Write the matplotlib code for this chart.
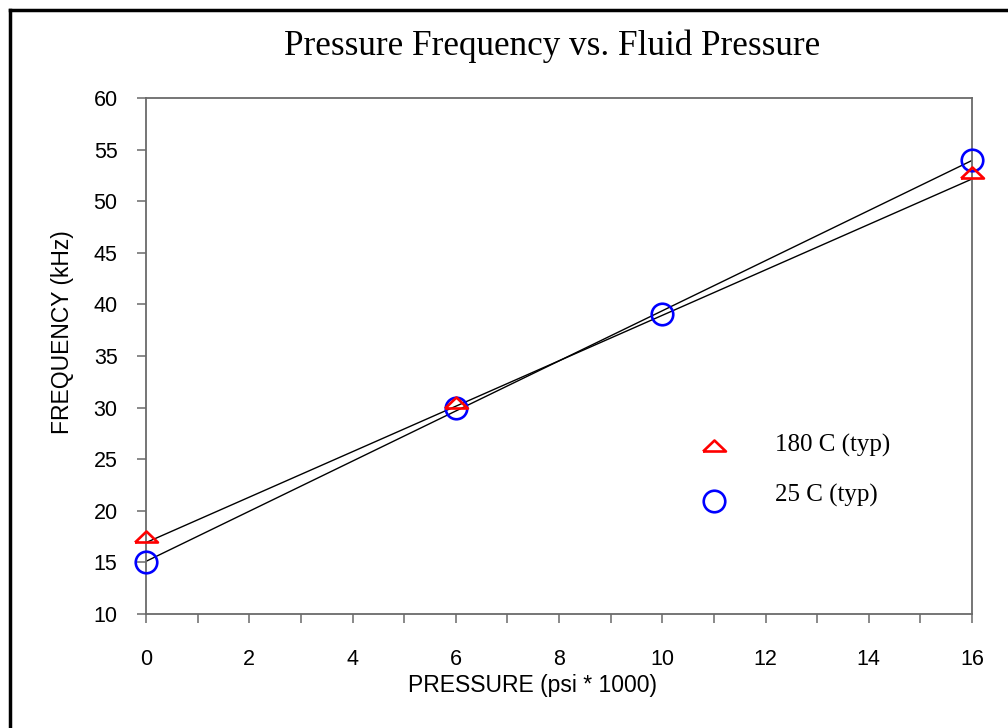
import numpy as np
import matplotlib
matplotlib.use('Agg')
import matplotlib.pyplot as plt
from matplotlib.lines import Line2D

# data
pressure_25c = [0, 6, 10, 16]
freq_25c = [15.0, 30.0, 39.1, 54.0]
pressure_180c = [0, 6, 16]
freq_180c = [17.0, 30.0, 52.2]

x_ticks = [0, 2, 4, 6, 8, 10, 12, 14, 16]
y_ticks = [10, 15, 20, 25, 30, 35, 40, 45, 50, 55, 60]

sans = 'Liberation Sans'
serif = 'Liberation Serif'
spine_col = '#6a6a6a'

fig = plt.figure(figsize=(10.08, 7.28), dpi=100)
ax = fig.add_axes([146 / 1008, 1 - 614 / 728, 826 / 1008, 516 / 728])

# flat triangle sitting on its data point
tri = [(-1, 0), (1, 0), (0, 0.96), (-1, 0)]

# linear fits, drawn across the data range
for xs, ys in [(pressure_180c, freq_180c), (pressure_25c, freq_25c)]:
    k, b = np.polyfit(xs, ys, 1)
    xl = np.array([min(xs), max(xs)])
    ax.plot(xl, k * xl + b, color='black', lw=1.0, zorder=2)

ax.plot(pressure_25c, freq_25c, ls='none', marker='o', ms=15.5, mfc='none',
        mec='#0000ff', mew=1.9, clip_on=False, zorder=3)
ax.plot(pressure_180c, freq_180c, ls='none', marker=tri, ms=16.5, mfc='none',
        mec='#ff0000', mew=1.9, clip_on=False, zorder=4)

ax.set_xlim(0, 16)
ax.set_ylim(10, 60)
ax.set_xticks(x_ticks)
ax.set_xticks(range(0, 17), minor=True)
ax.set_yticks(y_ticks)

for s in ax.spines.values():
    s.set_color(spine_col)
    s.set_linewidth(1.3)
ax.tick_params(axis='both', which='both', direction='out', length=6.5,
               width=1.1, color=spine_col)
ax.tick_params(axis='x', which='major', pad=18.5)
ax.tick_params(axis='y', pad=14)
for lab in ax.get_xticklabels() + ax.get_yticklabels():
    lab.set_fontfamily(sans)
    lab.set_fontsize(15.5)

# legend drawn by hand to match the original placement
ax.plot([0.6877], [0.3165], transform=ax.transAxes, ls='none', marker=tri,
        ms=16.5, mfc='none', mec='#ff0000', mew=1.9, clip_on=False)
ax.plot([0.688], [0.219], transform=ax.transAxes, ls='none', marker='o',
        ms=15.5, mfc='none', mec='#0000ff', mew=1.9, clip_on=False)
ax.text(0.7615, 0.3145, '180 C (typ)', transform=ax.transAxes,
        family=serif, fontsize=18, va='baseline')
ax.text(0.7615, 0.2176, '25 C (typ)', transform=ax.transAxes,
        family=serif, fontsize=18, va='baseline')

fig.text(552 / 1008, 1 - 55 / 728, 'Pressure Frequency vs. Fluid Pressure',
         family=serif, fontsize=25.3, ha='center', va='baseline')
fig.text(532 / 1008, 1 - 692 / 728, 'PRESSURE (psi * 1000)',
         family=sans, fontsize=16.5, ha='center', va='baseline')
fig.text(63 / 1008, 1 - 332 / 728, 'FREQUENCY (kHz)', rotation=90,
         family=sans, fontsize=16.5, ha='center', va='center')

# page frame (only left and top edges show)
fig.add_artist(Line2D([10 / 1008, 10 / 1008], [0, 1 - 10 / 728],
                      transform=fig.transFigure, color='black', lw=2.5))
fig.add_artist(Line2D([10 / 1008, 1], [1 - 10 / 728, 1 - 10 / 728],
                      transform=fig.transFigure, color='black', lw=2.5))

plt.savefig('out.png', dpi=100)
